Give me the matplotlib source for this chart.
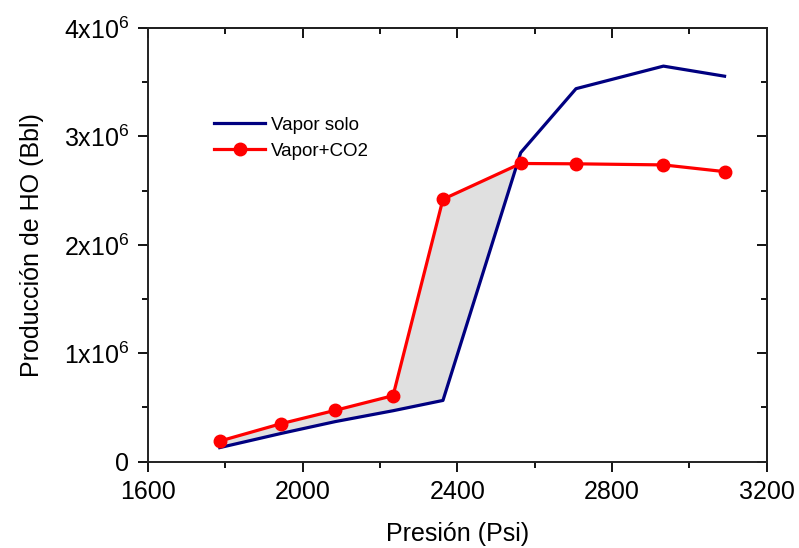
import matplotlib
matplotlib.use("Agg")
import matplotlib.pyplot as plt
import numpy as np

plt.rcParams['font.family'] = ['Liberation Sans', 'DejaVu Sans']
plt.rcParams['mathtext.default'] = 'regular'

# data
presion = [1786, 1944, 2085, 2234, 2363, 2564, 2707, 2933, 3091]
vapor_solo = [0.13e6, 0.26e6, 0.37e6, 0.47e6, 0.565e6, 2.85e6, 3.44e6, 3.648e6, 3.555e6]
vapor_co2 = [0.19e6, 0.35e6, 0.474e6, 0.609e6, 2.42e6, 2.75e6, 2.747e6, 2.737e6, 2.675e6]

x_ticks = [1600, 2000, 2400, 2800, 3200]
y_ticks = [0, 1e6, 2e6, 3e6, 4e6]
y_labels = ['0', '1x10$^{6}$', '2x10$^{6}$', '3x10$^{6}$', '4x10$^{6}$']

fig = plt.figure(figsize=(7.99, 5.48), dpi=100)
ax = fig.add_axes([0.185, 0.1575, 0.7746, 0.7915])

x = np.array(presion)
b = np.array(vapor_solo)
r = np.array(vapor_co2)
ax.fill_between(x, b, r, where=r >= b, interpolate=True,
                color='#e0e0e0', linewidth=0, zorder=1)
ax.plot(x, b, color='#000080', lw=2.3, label='Vapor solo', zorder=2)
ax.plot(x, r, color='#ff0000', lw=2.3, marker='o', ms=9,
        label='Vapor+CO2', zorder=3)

ax.set_xlim(1600, 3200)
ax.set_ylim(0, 4e6)
ax.set_xticks(x_ticks)
ax.set_xticks(np.arange(1800, 3200, 400), minor=True)
ax.set_yticks(y_ticks)
ax.set_yticklabels(y_labels)
ax.set_yticks(np.arange(0.5e6, 4e6, 1e6), minor=True)

for s in ax.spines.values():
    s.set_linewidth(1.4)
    s.set_color('#222222')
ax.tick_params(which='major', direction='out', length=7.5, width=1.3, labelsize=18)
ax.tick_params(axis='x', which='major', pad=6)
ax.tick_params(axis='y', which='major', pad=6)
ax.tick_params(which='minor', direction='out', length=4, width=1.3)

# mirrored ticks pointing inward on top and right
top = ax.secondary_xaxis('top')
top.set_xticks(x_ticks)
top.set_xticks(np.arange(1800, 3200, 400), minor=True)
top.tick_params(which='major', direction='in', length=7.5, width=1.3, labeltop=False)
top.tick_params(which='minor', direction='in', length=4, width=1.3)
top.spines['top'].set_linewidth(1.4)
right = ax.secondary_yaxis('right')
right.set_yticks(y_ticks)
right.set_yticks(np.arange(0.5e6, 4e6, 1e6), minor=True)
right.tick_params(which='major', direction='in', length=7.5, width=1.3, labelright=False)
right.tick_params(which='minor', direction='in', length=4, width=1.3)
right.spines['right'].set_linewidth(1.4)

ax.set_xlabel('Presión (Psi)', fontsize=18, labelpad=13)
ax.set_ylabel('Producción de HO (Bbl)', fontsize=18, labelpad=14)

ax.legend(loc='upper left', bbox_to_anchor=(0.08, 0.835), frameon=False,
          fontsize=13.5, handlelength=2.7, handletextpad=0.32, labelspacing=0.5)

fig.savefig('out.png', dpi=100)
